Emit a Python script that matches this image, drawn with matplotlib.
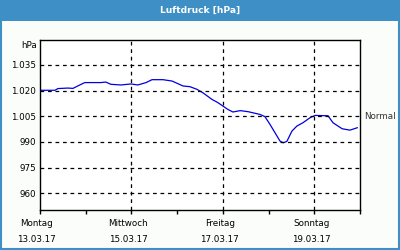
import matplotlib
matplotlib.use("Agg")
import matplotlib.pyplot as plt
from matplotlib.patches import Rectangle
import matplotlib.transforms as mtransforms

# pressure curve (day since Monday, hPa)
days = [0, 0.33, 0.39, 0.61, 0.72, 0.90, 0.98, 1.33, 1.44, 1.55, 1.77, 1.99, 2.14,
        2.32, 2.45, 2.69, 2.89, 3.13, 3.28, 3.43, 3.56, 3.76, 3.89, 4.00, 4.11,
        4.22, 4.38, 4.55, 4.81, 4.92, 5.03, 5.14, 5.25, 5.32, 5.40, 5.51, 5.62,
        5.75, 5.91, 6.02, 6.30, 6.41, 6.61, 6.78, 6.94]
pressure = [1020.2, 1020.2, 1021.2, 1021.5, 1021.3, 1023.7, 1024.7, 1024.7, 1025.0,
            1023.7, 1023.3, 1023.9, 1023.3, 1024.7, 1026.4, 1026.4, 1025.6, 1022.7,
            1022.3, 1020.8, 1018.8, 1014.9, 1013.0, 1011.0, 1009.0, 1007.5, 1008.3,
            1007.7, 1006.1, 1004.8, 1000.3, 995.4, 990.5, 989.5, 990.3, 996.3, 999.3,
            1001.2, 1004.2, 1005.5, 1005.3, 1001.2, 997.7, 996.9, 998.3]

y_ticks = [960, 975, 990, 1005, 1020, 1035]
y_labels = ["960", "975", "990", "1.005", "1.020", "1.035"]
x_ticks = [0, 2, 4, 6]
x_labels = ["Montag\n13.03.17", "Mittwoch\n15.03.17", "Freitag\n17.03.17", "Sonntag\n19.03.17"]
normal_value = 1005

blue = "#3d8fc6"
fs = 6.3
plt.rcParams["font.family"] = "DejaVu Sans"

fig = plt.figure(figsize=(4, 2.5), dpi=100)
fig.patch.set_facecolor("#fbfdfb")

# frame and title bar
fig.patches.append(Rectangle((0.002, 0.004), 0.995, 0.99, transform=fig.transFigure,
                             fill=False, edgecolor=blue, linewidth=1.5))
fig.patches.append(Rectangle((0, 0.918), 1, 0.082, transform=fig.transFigure,
                             facecolor=blue, edgecolor="none"))
fig.text(0.5, 0.958, "Luftdruck [hPa]", color="white", fontsize=6.6,
         fontweight="bold", ha="center", va="center")

ax = fig.add_axes([0.1, 0.16, 0.8, 0.68])
ax.set_facecolor("white")
ax.plot(days, pressure, color="#0000e0", linewidth=0.9)

ax.set_xlim(0, 7)
ax.set_ylim(950.2, 1049.6)

ax.set_yticks(y_ticks)
ax.set_yticklabels(y_labels, fontsize=fs)
ax.tick_params(axis="y", length=0, pad=3)

ax.set_xticks(range(8))
ax.set_xticklabels([""] * 8)
ax.tick_params(axis="x", length=3, width=1, direction="out")
xform = mtransforms.blended_transform_factory(ax.transData, ax.transAxes)
for d, lab in zip(x_ticks, x_labels):
    ax.text(d - 0.07, -0.05, lab, transform=xform,
            ha="center", va="top", fontsize=fs, linespacing=2.0)

for v in y_ticks:
    ax.axhline(v, color="black", linestyle=(0, (3, 3)), linewidth=0.9)
for d in x_ticks[1:]:
    ax.axvline(d, color="black", linestyle=(0, (3, 3)), linewidth=0.9)

for s in ax.spines.values():
    s.set_color("black")
    s.set_linewidth(1)

fig.text(0.093, 0.82, "hPa", fontsize=fs, ha="right", va="center")
ax.text(1.014, normal_value, "Normal", fontsize=fs, ha="left", va="center",
        color="#333333", transform=mtransforms.blended_transform_factory(ax.transAxes, ax.transData))

fig.savefig("out.png", dpi=100, facecolor=fig.get_facecolor())
